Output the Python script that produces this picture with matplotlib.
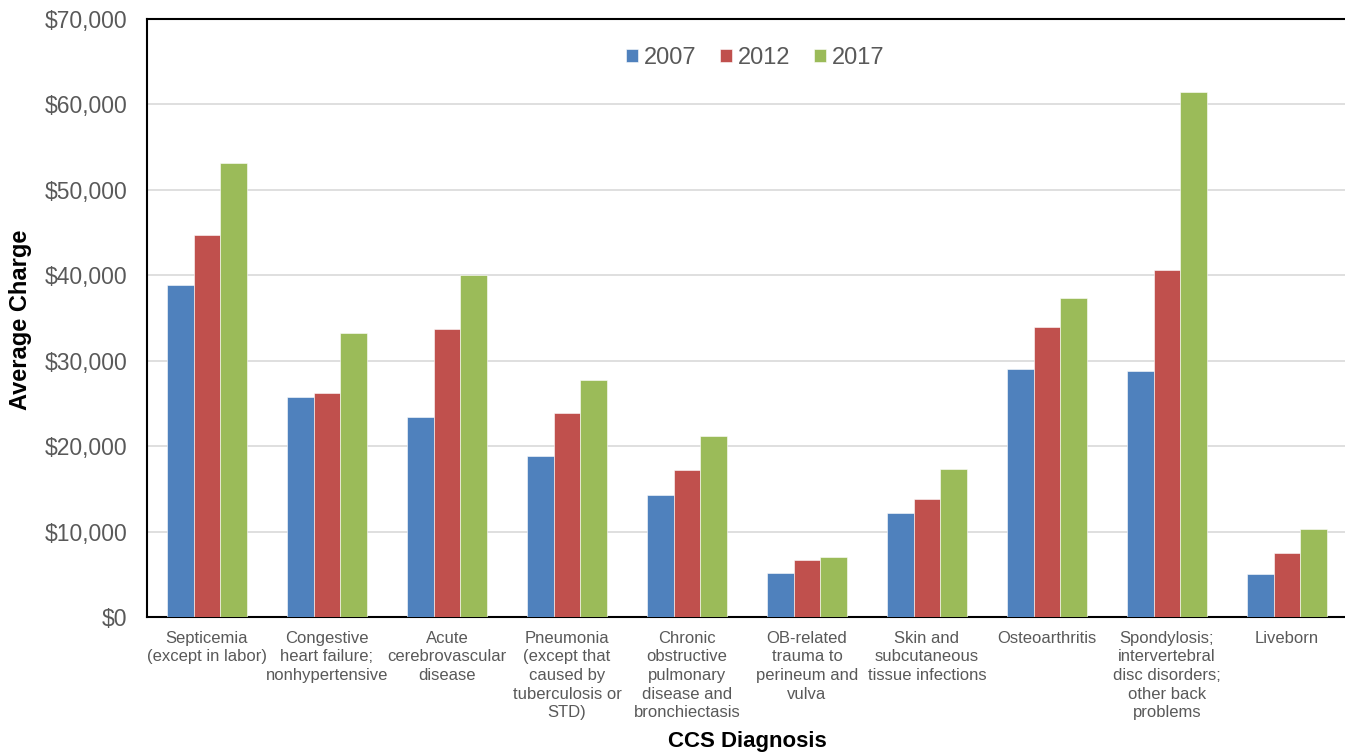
import matplotlib
matplotlib.use("Agg")
import matplotlib.pyplot as plt
from matplotlib.ticker import FuncFormatter, MultipleLocator
import numpy as np

plt.rcParams['font.family'] = ['Liberation Sans', 'DejaVu Sans']

categories = [
    "Septicemia\n(except in labor)",
    "Congestive\nheart failure;\nnonhypertensive",
    "Acute\ncerebrovascular\ndisease",
    "Pneumonia\n(except that\ncaused by\ntuberculosis or\nSTD)",
    "Chronic\nobstructive\npulmonary\ndisease and\nbronchiectasis",
    "OB-related\ntrauma to\nperineum and\nvulva",
    "Skin and\nsubcutaneous\ntissue infections",
    "Osteoarthritis",
    "Spondylosis;\nintervertebral\ndisc disorders;\nother back\nproblems",
    "Liveborn",
]
years = ["2007", "2012", "2017"]
charges_2007 = [38900, 25800, 23400, 18900, 14300, 5200, 12200, 29000, 28800, 5000]
charges_2012 = [44700, 26200, 33700, 23900, 17200, 6700, 13800, 34000, 40600, 7500]
charges_2017 = [53100, 33300, 40000, 27800, 21200, 7000, 17300, 37300, 61500, 10300]
colors = ["#4F81BD", "#C0504D", "#9BBB59"]

W, H = 1345, 755
fig = plt.figure(figsize=(W / 100, H / 100), dpi=100)
ax = fig.add_axes([147 / W, 1 - 617 / H, (1347 - 147) / W, (617 - 19) / H])

x = np.arange(len(categories))
bw = 0.2222
series = [charges_2007, charges_2012, charges_2017]
for i, (vals, col, yr) in enumerate(zip(series, colors, years)):
    ax.bar(x + (i - 1) * bw, vals, width=bw, color=col, label=yr,
           edgecolor="white", linewidth=0.4, zorder=3)

ax.set_xlim(-0.5, len(categories) - 0.5)
ax.set_ylim(0, 70000)
ax.yaxis.set_major_locator(MultipleLocator(10000))
ax.yaxis.set_major_formatter(FuncFormatter(lambda v, p: f"${v:,.0f}"))
ax.grid(axis="y", color="#d9d9d9", linewidth=1.2, zorder=0)
ax.set_axisbelow(True)

for side in ["left", "top", "bottom"]:
    ax.spines[side].set_color("black")
    ax.spines[side].set_linewidth(1.5)
ax.spines["right"].set_visible(False)

ax.tick_params(axis="y", length=0, pad=14, labelsize=16.5, labelcolor="#595959")
ax.tick_params(axis="x", length=0, pad=10, labelsize=12, labelcolor="#595959")
ax.set_xticks(x)
ax.set_xticklabels(categories, linespacing=1.3, multialignment="center")

fig.text(21 / W, 1 - 320 / H, "Average Charge", rotation=90, ha="center", va="center",
         fontsize=17, fontweight="bold", color="black")
fig.text(747 / W, 1 - 742 / H, "CCS Diagnosis", ha="center", va="center",
         fontsize=16, fontweight="bold", color="black")

leg = fig.legend(loc="center", bbox_to_anchor=(755 / W, 1 - 58 / H), ncol=3,
                 frameon=False, fontsize=17, handlelength=0.5, handleheight=0.5,
                 handletextpad=0.25, columnspacing=1.0)
for t in leg.get_texts():
    t.set_color("#595959")

fig.savefig("out.png", dpi=100)
